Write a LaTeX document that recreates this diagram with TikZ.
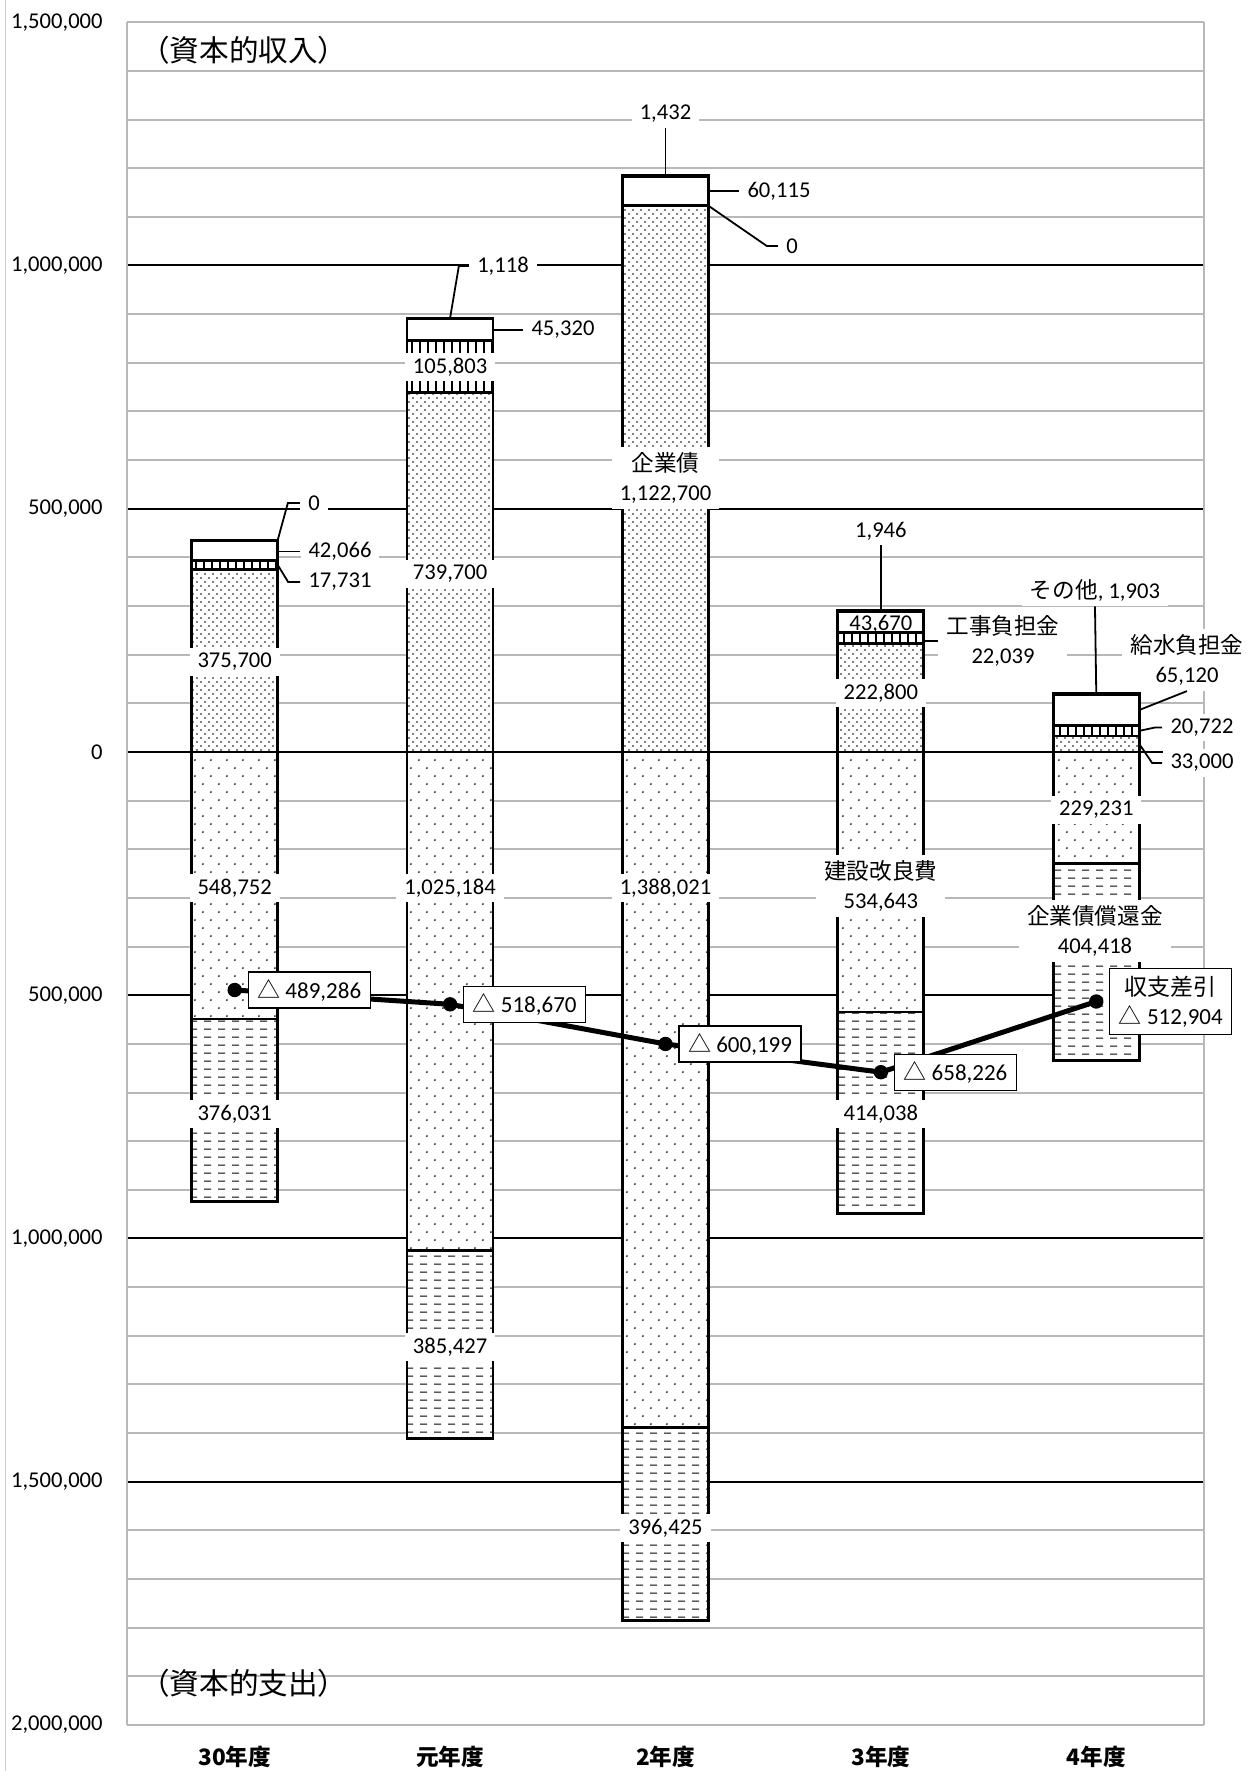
\documentclass[tikz,border=0pt]{standalone}
\usepackage{fontspec}
\setmainfont{Carlito}
\newfontfamily\jp{Noto Sans CJK JP}
\usetikzlibrary{patterns}

\pgfdeclarepatternformonly{bonddots}{\pgfpointorigin}{\pgfpoint{4pt}{4pt}}{\pgfpoint{4pt}{4pt}}{
  \pgfpathcircle{\pgfpoint{1pt}{1pt}}{0.42pt}
  \pgfpathcircle{\pgfpoint{3pt}{3pt}}{0.42pt}
  \pgfusepath{fill}}
\pgfdeclarepatternformonly{workdots}{\pgfpointorigin}{\pgfpoint{8pt}{8pt}}{\pgfpoint{8pt}{8pt}}{
  \pgfpathcircle{\pgfpoint{2pt}{2pt}}{0.5pt}
  \pgfpathcircle{\pgfpoint{6pt}{6pt}}{0.5pt}
  \pgfusepath{fill}}
\pgfdeclarepatternformonly{repaydash}{\pgfpointorigin}{\pgfpoint{7.2pt}{4.2pt}}{\pgfpoint{7.2pt}{4.2pt}}{
  \pgfsetlinewidth{0.6pt}
  \pgfpathmoveto{\pgfpoint{1.6pt}{2.1pt}}
  \pgfpathlineto{\pgfpoint{5.2pt}{2.1pt}}
  \pgfusepath{stroke}}
\pgfdeclarepatternformonly{workbars}{\pgfpoint{0pt}{-1pt}}{\pgfpoint{4pt}{5pt}}{\pgfpoint{4pt}{4pt}}{
  \pgfsetlinewidth{1pt}
  \pgfpathmoveto{\pgfpoint{2pt}{-1pt}}
  \pgfpathlineto{\pgfpoint{2pt}{5pt}}
  \pgfusepath{stroke}}

\tikzset{
  seg/.style={draw=black, line width=1.4pt, preaction={fill=white}},
  gridminor/.style={draw=black!28, line width=1pt},
  gridmajor/.style={draw=black, line width=1pt},
  lbl/.style={font={\fontsize{11.3}{14.7}\selectfont}, fill=white, inner xsep=4pt, inner ysep=2.5pt, align=center},
  lead/.style={line width=0.9pt},
  tick/.style={font={\fontsize{11.3}{13}\selectfont}, anchor=east, inner sep=0pt},
  cat/.style={font={\jp\bfseries\fontsize{11.3}{13}\selectfont}},
  title/.style={font={\jp\fontsize{14.8}{17}\selectfont}},
  diffbox/.style={draw=black, line width=0.6pt, fill=white, font={\fontsize{11.5}{14.7}\selectfont}, inner xsep=4.5pt, inner ysep=3.5pt, anchor=west, align=center},
  diffline/.style={line width=2.5pt},
}

\begin{document}
\begin{tikzpicture}[x=0.5pt, y=0.24325pt]
\useasboundingbox (0,1545.7) rectangle (1247,-2094.6);
\draw[black!20, line width=0.5pt] (6,1545.7) -- (6,-2094.6);

\foreach \v in {-2000,-1900,...,1500} \draw[gridminor] (127,\v) -- (1204,\v);
\foreach \v in {-1500,-1000,...,1000} \draw[gridmajor] (127,\v) -- (1204,\v);
\draw[gridminor] (127,-2000) -- (127,1500);
\draw[gridminor] (1204,-2000) -- (1204,1500);

\foreach \v/\t [count=\i] in {1500/{1,500,000}, 1000/{1,000,000}, 500/{500,000}, 0/0,
    -500/{500,000}, -1000/{1,000,000}, -1500/{1,500,000}, -2000/{2,000,000}}
  \node[tick] (tk\i) at (103,\v) {\t};

\foreach \cx/\ba/\bb/\bc/\bd/\ea/\eb in {
    234.7/375.7/17.731/42.066/0/548.752/376.031,
    450.1/739.7/105.803/45.32/1.118/1025.184/385.427,
    665.5/1122.7/0/60.115/1.432/1388.021/396.425,
    880.9/222.8/22.039/43.67/1.946/534.643/414.038,
    1096.3/33/20.722/65.12/1.903/229.231/404.418}{
  \pgfmathsetmacro\tb{\ba+\bb}
  \pgfmathsetmacro\tc{\tb+\bc}
  \pgfmathsetmacro\td{\tc+\bd}
  \pgfmathsetmacro\sb{-\ea-\eb}
  \draw[seg, pattern=workdots] (\cx-43,0) rectangle (\cx+43,-\ea);
  \draw[seg, pattern=repaydash] (\cx-43,-\ea) rectangle (\cx+43,\sb);
  \draw[seg, pattern=bonddots] (\cx-43,0) rectangle (\cx+43,\ba);
  \draw[seg, pattern=workbars] (\cx-43,\ba) rectangle (\cx+43,\tb);
  \draw[seg] (\cx-43,\tb) rectangle (\cx+43,\tc);
  \draw[seg] (\cx-43,\tc) rectangle (\cx+43,\td);
}

\coordinate (p0) at (234.7,-489.286);
\coordinate (p1) at (450.1,-518.670);
\coordinate (p2) at (665.5,-600.199);
\coordinate (p3) at (880.9,-658.226);
\coordinate (p4) at (1096.3,-512.904);
\draw[diffline] (p0) -- (p1) -- (p2) -- (p3) -- (p4);
\foreach \i in {0,...,4} \fill (p\i) circle (3.6pt);

\node[lbl] (a0) at (234.7,185) {375,700};
\node[lbl] (a1) at (340,412) {42,066};
\node[lbl] (a2) at (340,349.4) {17,731};
\node[lbl] (a3) at (314,511.8) {0};
\node[lbl] (a4) at (234.7,-279.5) {548,752};
\node[lbl] (a5) at (234.7,-744) {376,031};
\coordinate (a1s) at (277.7,412);
\coordinate (a2s) at (277.7,384.6);
\coordinate (a3s) at (277.7,435.5);
\draw[lead] (a1s) -- (a1.west);
\draw[lead] (a2s) -- ([xshift=-6pt]a2.west) -- (a2.west);
\draw[lead] (a3s) -- ([xshift=-6pt]a3.west) -- (a3.west);

\node[lbl] (b0) at (450.1,365.9) {739,700};
\node[lbl] (b1) at (450.1,791.4) {105,803};
\node[lbl] (b2) at (563,868.2) {45,320};
\node[lbl] (b3) at (503,999) {1,118};
\node[lbl] (b4) at (450.1,-279.5) {1,025,184};
\node[lbl] (b5) at (450.1,-1223) {385,427};
\coordinate (b2s) at (493.1,868.2);
\coordinate (b3s) at (450.1,891.9);
\draw[lead] (b2s) -- (b2.west);
\draw[lead] (b3s) -- ([xshift=-5pt]b3.west) -- (b3.west);

\node[lbl] (c0) at (665.5,563) {{\jp 企業債}\\1,122,700};
\node[lbl] (c1) at (779,1152.8) {60,115};
\node[lbl] (c2) at (792,1040) {0};
\node[lbl] (c3) at (665.5,1311.4) {1,432};
\node[lbl] (c4) at (665.5,-279.5) {1,388,021};
\node[lbl] (c5) at (665.5,-1595) {396,425};
\coordinate (c1s) at (708.5,1152.8);
\coordinate (c2s) at (708.5,1122.7);
\coordinate (c3s) at (665.5,1184.2);
\draw[lead] (c1s) -- (c1.west);
\draw[lead] (c2s) -- ([xshift=-5.5pt]c2.west) -- (c2.west);
\draw[lead] (c3s) -- (c3.south);

\node[lbl] (d0) at (880.9,121.3) {222,800};
\node[lbl] (d1) at (1003,228) {{\jp 工事負担金}\\22,039};
\node[lbl, fill=none, inner sep=1pt] (d2) at (880.9,263) {43,670};
\node[lbl] (d3) at (880.9,454.3) {1,946};
\node[lbl] (d4) at (880.9,-275.4) {{\jp 建設改良費}\\534,643};
\node[lbl] (d5) at (880.9,-744) {414,038};
\coordinate (d1s) at (923.9,228);
\coordinate (d3s) at (880.9,290.5);
\draw[lead] (d1s) -- (d1.west);
\draw[lead] (d3s) -- (d3.south);

\node[lbl] (e0) at (1202,-22.6) {33,000};
\node[lbl] (e1) at (1202,50.4) {20,722};
\node[lbl] (e2) at (1187,189) {{\jp 給水負担金}\\65,120};
\node[lbl] (e3) at (1095,333) {{\jp その他}, 1,903};
\node[lbl] (e4) at (1096.3,-119.2) {229,231};
\node[lbl] (e5) at (1095,-368) {{\jp 企業債償還金}\\404,418};
\coordinate (e0s) at (1139.3,16.5);
\coordinate (e1s) at (1139.3,43.4);
\coordinate (e2s) at (1139.3,86.3);
\coordinate (e3s) at (1096.3,120.7);
\draw[lead] (e0s) -- ([xshift=-5pt]e0.west) -- (e0.west);
\draw[lead] (e1s) -- ([xshift=-3.5pt]e1.west) -- (e1.west);
\draw[lead] (e2s) -- (e2.south);
\draw[lead] (e3s) -- (e3.south);

\node[diffbox] (f0) at (247.7,-489.286) {{\jp △} 489,286};
\node[diffbox] (f1) at (463.1,-518.670) {{\jp △} 518,670};
\node[diffbox] (f2) at (678.5,-600.199) {{\jp △} 600,199};
\node[diffbox] (f3) at (893.9,-658.226) {{\jp △} 658,226};
\node[diffbox] (f4) at (1109.3,-512.904) {{\jp 収支差引}\\{\jp △} 512,904};

\node[title] (tin) at (244,1443) {（資本的収入）};
\node[title] (tout) at (244,-1913.7) {（資本的支出）};

\foreach \cx/\t [count=\i] in {234.7/30年度, 450.1/元年度, 665.5/2年度, 880.9/3年度, 1096.3/4年度}
  \node[cat] (k\i) at (\cx,-2065.8) {\t};
\end{tikzpicture}
\end{document}
